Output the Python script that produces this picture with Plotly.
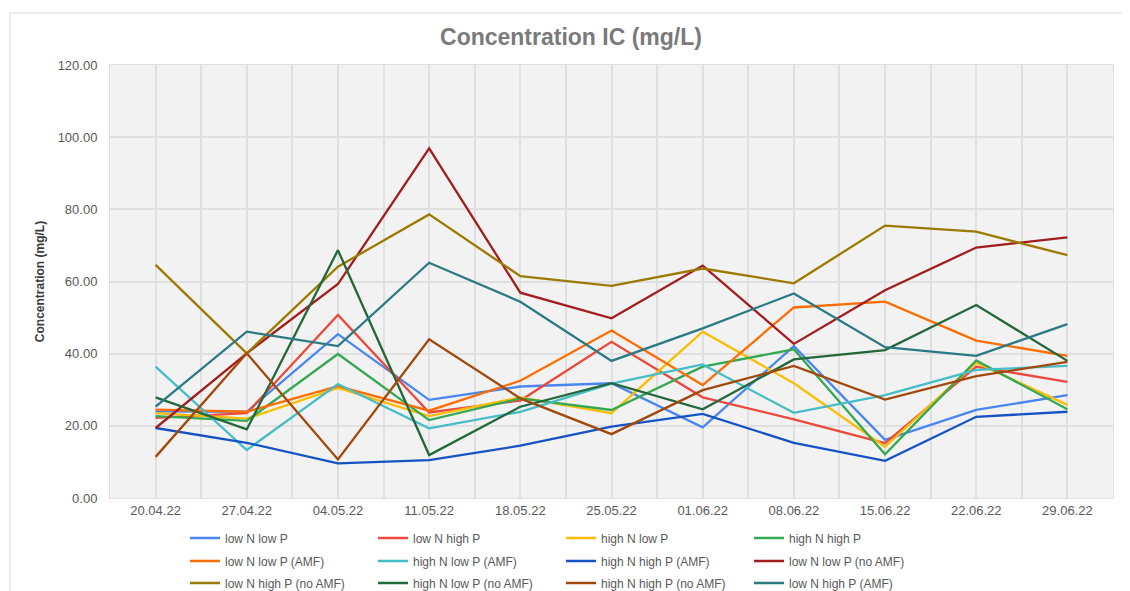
import plotly.graph_objects as go

# sampling dates (x axis)
dates = ["20.04.22", "27.04.22", "04.05.22", "11.05.22", "18.05.22", "25.05.22",
         "01.06.22", "08.06.22", "15.06.22", "22.06.22", "29.06.22"]

# concentrations per treatment (mg/L)
low_n_low_p = [24.0, 23.9, 45.4, 27.2, 30.9, 31.8, 19.6, 42.1, 16.1, 24.4, 28.5]
low_n_high_p = [22.2, 23.5, 50.7, 23.7, 27.0, 43.3, 27.9, 21.8, 15.2, 36.4, 32.2]
high_n_low_p = [23.5, 22.0, 30.5, 22.7, 27.9, 23.5, 46.1, 31.8, 14.2, 37.5, 25.8]
high_n_high_p = [22.7, 21.4, 39.9, 21.6, 27.6, 24.4, 36.4, 41.2, 12.1, 38.1, 24.6]
low_n_low_p_amf = [24.5, 23.9, 31.0, 24.2, 32.5, 46.4, 31.3, 52.8, 54.4, 43.6, 39.4]
high_n_low_p_amf = [36.4, 13.3, 31.6, 19.3, 23.9, 31.7, 37.0, 23.6, 28.5, 35.5, 36.6]
high_n_high_p_amf = [19.4, 15.3, 9.6, 10.5, 14.5, 19.8, 23.3, 15.3, 10.3, 22.5, 23.9]
low_n_low_p_noamf = [19.4, 40.1, 59.3, 96.9, 56.9, 49.8, 64.4, 42.7, 57.6, 69.4, 72.2]
low_n_high_p_noamf = [64.6, 40.1, 64.1, 78.6, 61.5, 58.8, 63.6, 59.5, 75.5, 73.8, 67.3]
high_n_low_p_noamf = [27.9, 19.0, 68.7, 11.9, 25.3, 31.8, 24.6, 38.4, 41.0, 53.5, 38.0]
high_n_high_p_noamf = [11.4, 40.1, 10.7, 44.0, 27.6, 17.7, 29.9, 36.6, 27.3, 33.8, 37.7]
low_n_high_p_amf = [25.3, 46.1, 42.1, 65.2, 54.4, 38.0, 47.0, 56.7, 41.8, 39.4, 48.2]

series = [
    ("low N low P", low_n_low_p, "#4a86f0"),
    ("low N high P", low_n_high_p, "#ea4a3e"),
    ("high N low P", high_n_low_p, "#fbbc04"),
    ("high N high P", high_n_high_p, "#34a853"),
    ("low N low P (AMF)", low_n_low_p_amf, "#ff6d01"),
    ("high N low P (AMF)", high_n_low_p_amf, "#46bdc6"),
    ("high N high P (AMF)", high_n_high_p_amf, "#1553c4"),
    ("low N low P (no AMF)", low_n_low_p_noamf, "#a21d1d"),
    ("low N high P (no AMF)", low_n_high_p_noamf, "#9c7a00"),
    ("high N low P (no AMF)", high_n_low_p_noamf, "#22683a"),
    ("high N high P (no AMF)", high_n_high_p_noamf, "#a2480a"),
    ("low N high P (AMF)", low_n_high_p_amf, "#2b7983"),
]

x_idx = list(range(len(dates)))
legend_ids = ["legend", "legend2", "legend3"]

fig = go.Figure()
for i, (name, vals, color) in enumerate(series):
    fig.add_trace(go.Scatter(x=x_idx, y=vals, mode="lines", name=name,
                             line=dict(color=color, width=2.3),
                             legend=legend_ids[i // 4]))

# page body adds an 8px margin, so the figure is drawn 8px smaller and shifted
OFF = 8
W, H = 1130 - OFF, 591 - OFF
ml, mr, mt, mb = 110 - OFF, 17, 65 - OFF, 93
pw, ph = W - ml - mr, H - mt - mb


def px_x(p):
    return (p - OFF - ml) / pw


def px_y(p):
    return (H - mb - (p - OFF)) / ph


legend_style = dict(orientation="h", x=px_x(185), xanchor="left", yanchor="middle",
                    entrywidth=143, bgcolor="rgba(0,0,0,0)",
                    font=dict(family="Liberation Sans, Arial", size=12, color="#595959"))

fig.update_layout(
    width=W, height=H,
    margin=dict(l=ml, r=mr, t=mt, b=mb, autoexpand=False),
    paper_bgcolor="white",
    plot_bgcolor="#f2f2f2",
    font=dict(family="Liberation Sans, Arial", color="#595959"),
    title=dict(text="<b>Concentration IC (mg/L)</b>", x=(571 - OFF) / W, xref="container",
               y=1 - (37 - OFF) / H, yref="container", yanchor="middle", xanchor="center",
               font=dict(size=23, color="#7a7a7a")),
    legend=dict(y=px_y(538), **legend_style),
    legend2=dict(y=px_y(561), **legend_style),
    legend3=dict(y=px_y(583), **legend_style),
    xaxis=dict(range=[-0.5, len(dates) - 0.5], tickvals=x_idx, ticktext=dates,
               showgrid=True, gridcolor="#e0e0e0", gridwidth=1.5,
               minor=dict(dtick=0.5, tick0=0.5, showgrid=True, gridcolor="#e0e0e0", gridwidth=1.5),
               zeroline=False, ticks="", ticklabelstandoff=0,
               tickfont=dict(size=13, color="#595959"),
               showline=True, linecolor="#e0e0e0", mirror=True),
    yaxis=dict(range=[0, 120], dtick=20, tickformat=".2f",
               showgrid=True, gridcolor="#e0e0e0", gridwidth=1.5,
               zeroline=False, ticks="", ticklabelstandoff=9,
               tickfont=dict(size=13, color="#595959"),
               showline=True, linecolor="#e0e0e0", mirror=True,
               title=dict(text="<b>Concentration (mg/L)</b>", standoff=10,
                          font=dict(size=12, color="#3a3a3a"))),
    showlegend=True,
)

# thin frame around the whole chart
fig.add_shape(type="rect", xref="paper", yref="paper",
              x0=px_x(10), x1=px_x(1127), y0=px_y(620), y1=px_y(13),
              line=dict(color="#d9d9d9", width=1), layer="below")

fig.write_html("out.html")
